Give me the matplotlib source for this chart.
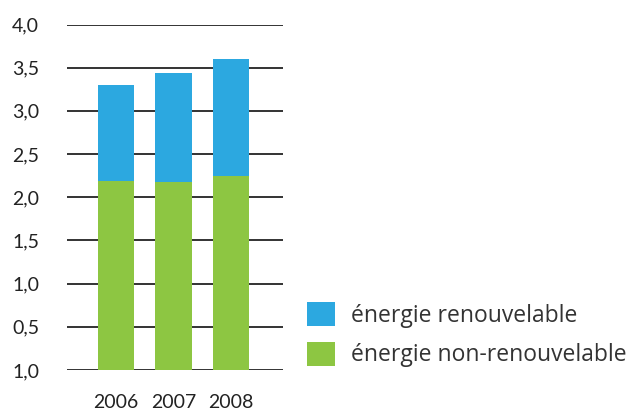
import matplotlib
matplotlib.use("Agg")
from matplotlib import pyplot as plt

# data
years = ["2006", "2007", "2008"]
non_renouvelable = [2.19, 2.18, 2.25]
renouvelable = [1.11, 1.26, 1.35]
y_ticks = [0.0, 0.5, 1.0, 1.5, 2.0, 2.5, 3.0, 3.5, 4.0]
y_labels = ["1,0", "0,5", "1,0", "1,5", "2,0", "2,5", "3,0", "3,5", "4,0"]

plt.rcParams["font.family"] = ["Lato", "DejaVu Sans"]

fig = plt.figure(figsize=(6.42, 4.13), dpi=100)
ax = fig.add_axes([67 / 642, 43 / 413, 216 / 642, 345.5 / 413])

x = list(range(len(years)))
b1 = ax.bar(x, non_renouvelable, width=0.635, color="#8DC642",
            label="énergie non-renouvelable", zorder=3)
b2 = ax.bar(x, renouvelable, width=0.635, bottom=non_renouvelable,
            color="#2CA8E0", label="énergie renouvelable", zorder=3)

ax.set_xlim(-0.852, 2.904)
ax.set_ylim(0, 4.0)
ax.set_yticks(y_ticks)
ax.set_yticklabels(y_labels)
ax.set_xticks(x)
ax.set_xticklabels(years)
ax.yaxis.grid(True, color="#333333", linewidth=1.4, zorder=0)
ax.set_axisbelow(True)
for s in ax.spines.values():
    s.set_visible(False)
ax.tick_params(axis="y", length=0, pad=20, labelsize=14, labelcolor="#222222")
ax.tick_params(axis="x", length=0, pad=17, labelsize=14, labelcolor="#222222")

fig.legend(handles=[b2, b1], loc="upper left", bbox_to_anchor=(307 / 642, 1 - 302 / 413),
           frameon=False, prop={"family": "Open Sans", "size": 16.5},
           handlelength=1.22, handleheight=1.22,
           handletextpad=0.7, labelspacing=0.62, labelcolor="#333333",
           borderaxespad=0, borderpad=0)

fig.savefig("out.png", dpi=100)
